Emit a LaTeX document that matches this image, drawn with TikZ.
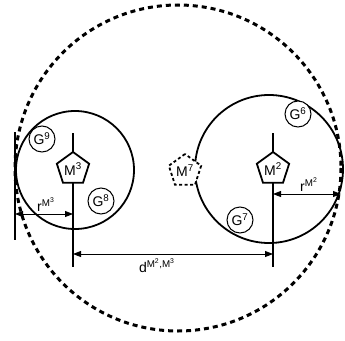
\documentclass[tikz,border=0pt]{standalone}
\usepackage{fontspec}
\setmainfont{Liberation Sans}
\usetikzlibrary{shapes.geometric,arrows.meta}
\begin{document}
\begin{tikzpicture}[x=1pt,y=-1pt,
  pent/.style={regular polygon, regular polygon sides=5, draw, line width=1.8pt, fill=white,
    minimum size=34pt, inner sep=0pt, font=\fontsize{14}{14}\selectfont},
  gnode/.style={circle, draw, line width=1pt, fill=white, minimum size=26pt, inner sep=0pt,
    font=\fontsize{14}{14}\selectfont},
  ring/.style={draw, line width=1.8pt},
  axis/.style={line width=2.2pt},
  dim/.style={line width=0.9pt, {Triangle[length=8pt,width=6pt]}-{Triangle[length=8pt,width=6pt]}},
  lbl/.style={font=\fontsize{14}{14}\selectfont, inner sep=0pt}
]
\useasboundingbox (0,0) rectangle (345,340);
% outer dashed circle
\draw[line width=3pt, dash pattern=on 5pt off 4pt] (178,168) circle[radius=163];
% cluster circles
\draw[ring] (75,170) circle[radius=59];
\draw[ring] (269,169) circle[radius=74];
% axes
\coordinate (wT) at (15,132);
\coordinate (wB) at (15,240);
\coordinate (a3T) at (73,133);
\coordinate (a3B) at (73,267);
\coordinate (a2T) at (273,133);
\coordinate (a2B) at (273,267);
\draw[axis] (wT) -- (wB);
\draw[axis] (a3T) -- (a3B);
\draw[axis] (a2T) -- (a2B);
% dimension arrows
\coordinate (r3L) at (15,214);
\coordinate (r3R) at (73,214);
\coordinate (r2L) at (273,194);
\coordinate (r2R) at (341,194);
\coordinate (dL) at (73,254);
\coordinate (dR) at (273,254);
\draw[dim] (r3L) -- (r3R);
\draw[dim] (r2L) -- (r2R);
\draw[dim] (dL) -- (dR);
\node[lbl] (lr3) at (46,205) {r\textsuperscript{M\textsuperscript{3}}};
\node[lbl] (lr2) at (309,185) {r\textsuperscript{M\textsuperscript{2}}};
\node[lbl] (ld) at (157,266) {d\textsuperscript{M\textsuperscript{2},M\textsuperscript{3}}};
% molecules
\node[pent] (m3) at (73,169) {M\textsuperscript{3}};
\node[pent] (m2) at (273,169) {M\textsuperscript{2}};
\node[pent, dash pattern=on 3pt off 2.5pt] (m7) at (185,171) {M\textsuperscript{7}};
% groups
\node[gnode] (g9) at (42,139) {G\textsuperscript{9}};
\node[gnode] (g8) at (101,201) {G\textsuperscript{8}};
\node[gnode] (g6) at (298,114) {G\textsuperscript{6}};
\node[gnode] (g7) at (240,220) {G\textsuperscript{7}};
\end{tikzpicture}
\end{document}
